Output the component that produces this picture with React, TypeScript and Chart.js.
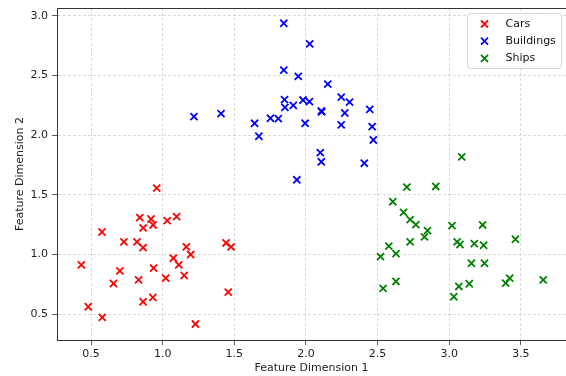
import React, { useEffect, useRef } from "react";
import { Chart, registerables } from "chart.js";

Chart.register(...registerables);

const seriesLabels = ["Cars", "Buildings", "Ships"];
const seriesColors = ["#ff0000", "#0000ff", "#008000"];

const carsX = [0.432, 0.48, 0.578, 0.576, 0.656, 0.701, 0.729, 0.82, 0.832, 0.84, 0.863, 0.863, 0.863, 0.918, 0.933, 0.936, 0.931, 0.958, 1.021, 1.031, 1.074, 1.097, 1.112, 1.15, 1.165, 1.195, 1.228, 1.442, 1.477, 1.457];
const carsY = [0.912, 0.561, 0.472, 1.188, 0.756, 0.862, 1.105, 1.105, 0.787, 1.308, 1.222, 1.057, 0.603, 1.297, 1.247, 0.885, 0.639, 1.556, 0.801, 1.283, 0.968, 1.317, 0.912, 0.823, 1.063, 0.999, 0.416, 1.096, 1.063, 0.684];

const buildingsX = [1.845, 2.026, 1.845, 1.946, 2.152, 2.246, 2.304, 1.85, 1.853, 1.911, 1.979, 2.024, 2.107, 2.11, 2.271, 2.445, 1.218, 1.407, 1.641, 1.671, 1.752, 1.807, 1.994, 2.246, 2.462, 2.47, 2.1, 2.107, 2.407, 1.936];
const buildingsY = [2.939, 2.766, 2.546, 2.493, 2.429, 2.32, 2.278, 2.298, 2.234, 2.25, 2.295, 2.281, 2.203, 2.196, 2.186, 2.217, 2.156, 2.181, 2.1, 1.991, 2.142, 2.139, 2.1, 2.086, 2.072, 1.96, 1.854, 1.777, 1.765, 1.626];

const shipsX = [3.087, 2.704, 2.906, 2.606, 2.681, 2.727, 2.767, 2.848, 2.827, 2.727, 2.578, 2.628, 2.52, 2.538, 2.628, 3.019, 3.233, 3.055, 3.075, 3.175, 3.24, 3.462, 3.155, 3.246, 3.032, 3.067, 3.14, 3.394, 3.422, 3.656];
const shipsY = [1.818, 1.565, 1.57, 1.442, 1.353, 1.292, 1.25, 1.2, 1.147, 1.105, 1.069, 1.007, 0.982, 0.715, 0.773, 1.241, 1.247, 1.105, 1.083, 1.091, 1.077, 1.127, 0.926, 0.926, 0.645, 0.731, 0.754, 0.759, 0.801, 0.787];

const xTicks = [0.5, 1.0, 1.5, 2.0, 2.5, 3.0, 3.5];
const yTicks = [0.5, 1.0, 1.5, 2.0, 2.5, 3.0];
const xRange = [0.262, 3.815];
const yRange = [0.282, 3.067];
const xTitle = "Feature Dimension 1";
const yTitle = "Feature Dimension 2";

const zip = (xs: number[], ys: number[]) => xs.map((x, i) => ({ x, y: ys[i] }));

const FONT = "'DejaVu Sans', sans-serif";
const FS = 11;

const framePlugin = {
  id: "frameAndLegend",
  afterDraw(chart: any) {
    const { ctx, chartArea } = chart;
    const { left, top, right } = chartArea;
    ctx.save();
    ctx.strokeStyle = "#333";
    ctx.lineWidth = 1;
    ctx.beginPath();
    ctx.moveTo(left, top + 0.5);
    ctx.lineTo(right, top + 0.5);
    ctx.stroke();

    // legend box (upper right inside plot)
    const bw = 94;
    const bh = 55;
    const bx = right - 99 + 0.5;
    const by = top + 5 + 0.5;
    ctx.fillStyle = "rgba(255,255,255,0.85)";
    ctx.strokeStyle = "#d4d4d4";
    ctx.lineWidth = 1;
    ctx.beginPath();
    if ((ctx as any).roundRect) (ctx as any).roundRect(bx, by, bw, bh, 3);
    else ctx.rect(bx, by, bw, bh);
    ctx.fill();
    ctx.stroke();

    ctx.font = `${FS}px ${FONT}`;
    ctx.textBaseline = "middle";
    ctx.textAlign = "left";
    chart.data.datasets.forEach((ds: any, i: number) => {
      const cy = by + 10.5 + i * 17.2;
      const cx = bx + 17;
      const r = 3.5;
      ctx.strokeStyle = ds.borderColor;
      ctx.lineWidth = 1.8;
      ctx.beginPath();
      ctx.moveTo(cx - r, cy - r);
      ctx.lineTo(cx + r, cy + r);
      ctx.moveTo(cx - r, cy + r);
      ctx.lineTo(cx + r, cy - r);
      ctx.stroke();
      ctx.fillStyle = "#111";
      ctx.fillText(ds.label, bx + 38, cy);
    });
    ctx.restore();
  },
};

export default function App() {
  const ref = useRef<HTMLCanvasElement | null>(null);

  useEffect(() => {
    if (!ref.current) return;
    Chart.defaults.font.family = FONT;
    Chart.defaults.font.size = FS;
    const data = [zip(carsX, carsY), zip(buildingsX, buildingsY), zip(shipsX, shipsY)];
    const chart = new Chart(ref.current, {
      type: "scatter",
      data: {
        datasets: seriesLabels.map((label, i) => ({
          label,
          data: data[i],
          pointStyle: "crossRot",
          pointRadius: 5,
          pointHoverRadius: 5,
          borderColor: seriesColors[i],
          backgroundColor: seriesColors[i],
          borderWidth: 1.8,
          pointBorderWidth: 1.8,
        })),
      },
      options: {
        animation: false,
        responsive: false,
        events: [],
        layout: { autoPadding: false, padding: { top: 8, left: 0, right: 0, bottom: 0 } },
        plugins: {
          legend: { display: false },
          tooltip: { enabled: false },
        },
        scales: {
          x: {
            type: "linear",
            min: xRange[0],
            max: xRange[1],
            afterBuildTicks: (scale: any) => {
              scale.ticks = xTicks.map((v) => ({ value: v }));
            },
            afterFit: (scale: any) => {
              scale.height = 36;
              scale.paddingLeft = 0;
              scale.paddingRight = 0;
            },
            ticks: {
              padding: 3,
              color: "#222",
              font: { size: FS, family: FONT },
              callback: (v: any) => Number(v).toFixed(1),
            },
            grid: {
              color: "rgba(176,176,176,0.6)",
              lineWidth: 0.8,
              tickLength: 5,
              tickColor: "#333",
              tickWidth: 0.8,
            },
            border: { display: true, color: "#333", width: 1, dash: [3, 2] },
            title: {
              display: true,
              text: xTitle,
              color: "#222",
              font: { size: FS, family: FONT },
              padding: { top: 0, bottom: 1.5 },
            },
          },
          y: {
            type: "linear",
            min: yRange[0],
            max: yRange[1],
            afterBuildTicks: (scale: any) => {
              scale.ticks = yTicks.map((v) => ({ value: v }));
            },
            afterFit: (scale: any) => {
              scale.width = 57;
              scale.paddingTop = 0;
              scale.paddingBottom = 0;
            },
            ticks: {
              padding: 4,
              color: "#222",
              font: { size: FS, family: FONT },
              callback: (v: any) => Number(v).toFixed(1),
            },
            grid: {
              color: "rgba(176,176,176,0.6)",
              lineWidth: 0.8,
              tickLength: 5,
              tickColor: "#333",
              tickWidth: 0.8,
            },
            border: { display: true, color: "#333", width: 1, dash: [3, 2] },
            title: {
              display: true,
              text: yTitle,
              color: "#222",
              font: { size: FS, family: FONT },
              padding: { top: 13.5, bottom: 0 },
            },
          },
        },
      },
      plugins: [framePlugin],
    });
    return () => chart.destroy();
  }, []);

  return (
    <div style={{ position: "absolute", left: 0, top: 0, width: 566, height: 376, background: "#fff" }}>
      <canvas ref={ref} width={566} height={376} style={{ width: 566, height: 376, display: "block" }} />
    </div>
  );
}
